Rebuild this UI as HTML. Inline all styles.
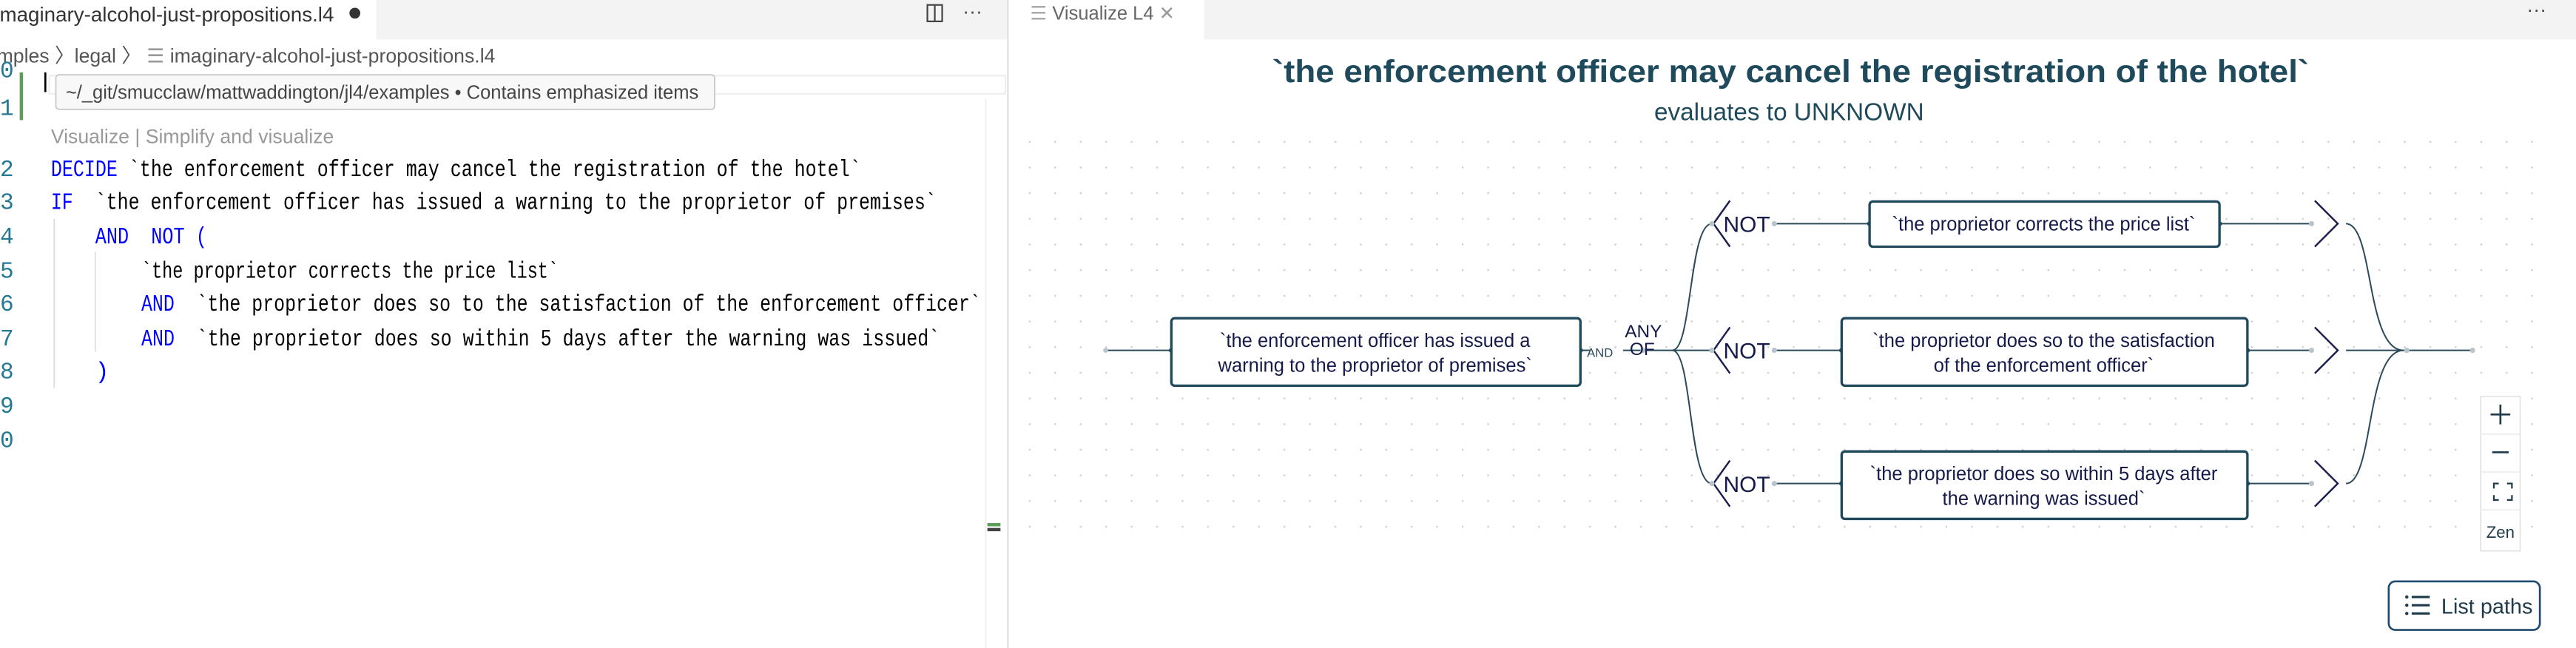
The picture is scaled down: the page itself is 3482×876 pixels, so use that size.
<!DOCTYPE html>
<html><head><meta charset="utf-8"><style>
html,body{margin:0;padding:0;background:#fff;overflow:hidden}
svg{display:block}
.m{font-family:"Liberation Mono",monospace;font-size:14px;white-space:pre}
.s{font-family:"Liberation Sans",sans-serif}
</style></head><body>
<svg width="3482" height="876" viewBox="0 0 1568 394" preserveAspectRatio="none" xmlns="http://www.w3.org/2000/svg" xml:space="preserve">
<defs>
<pattern id="dots" x="626" y="85.5" width="15.5" height="15.6" patternUnits="userSpaceOnUse">
<circle cx="0.8" cy="0.8" r="0.55" fill="#c4c8cc"/>
</pattern>
</defs>
<rect width="1568" height="394" fill="#fff"/>
<rect x="0" y="0" width="613" height="24" fill="#f3f3f3"/>
<rect x="0" y="0" width="229" height="25" fill="#fff"/>
<text x="-3" y="13" class="s" font-size="12.5" fill="#333">imaginary-alcohol-just-propositions.l4</text>
<circle cx="216" cy="8" r="3.3" fill="#333"/>
<rect x="564.5" y="3" width="9" height="10" fill="none" stroke="#444" stroke-width="1"/>
<line x1="569" y1="3" x2="569" y2="13" stroke="#444" stroke-width="1"/>
<text x="586" y="11" class="s" font-size="12" fill="#444">···</text>
<text x="-2" y="38" class="s" font-size="12" fill="#555">mples 〉legal 〉 <tspan fill="#999">☰</tspan> imaginary-alcohol-just-propositions.l4</text>
<rect x="30" y="46" width="582" height="11" fill="none" stroke="#eee" stroke-width="1"/>
<rect x="12" y="44" width="2" height="29" fill="#5a9e5a"/>
<rect x="27" y="44" width="1.2" height="12" fill="#000"/>
<text x="0" y="47" class="m" fill="#237893" font-size="12">0</text>
<text x="0" y="70" class="m" fill="#237893" font-size="12">1</text>
<rect x="34" y="45.5" width="401" height="21" fill="#f8f8f8" stroke="#c8c8c8" stroke-width="0.8" rx="2"/>
<text x="40" y="60" class="s" font-size="11.5" fill="#444">~/_git/smucclaw/mattwaddington/jl4/examples • Contains emphasized items</text>
<text x="31" y="87" class="s" font-size="12" fill="#999">Visualize | Simplify and visualize</text>
<g class="m" fill="#237893">
<text x="0" y="107">2</text><text x="0" y="127">3</text><text x="0" y="148">4</text><text x="0" y="169">5</text><text x="0" y="189">6</text><text x="0" y="210">7</text><text x="0" y="230">8</text><text x="0" y="251">9</text><text x="0" y="272">0</text>
</g>
<line x1="33" y1="133" x2="33" y2="236" stroke="#ddd" stroke-width="0.8"/>
<line x1="58" y1="153" x2="58" y2="214" stroke="#ddd" stroke-width="0.8"/>
<text x="31" y="107" class="m" textLength="493" lengthAdjust="spacingAndGlyphs"><tspan fill="#0000ff">DECIDE</tspan> `the enforcement officer may cancel the registration of the hotel`</text>
<text x="31" y="127" class="m" textLength="539" lengthAdjust="spacingAndGlyphs"><tspan fill="#0000ff">IF</tspan>&#160;&#160;`the enforcement officer has issued a warning to the proprietor of premises`</text>
<text x="58" y="148" class="m" fill="#0000ff" textLength="68" lengthAdjust="spacingAndGlyphs">AND&#160;&#160;NOT (</text>
<text x="86" y="169" class="m" textLength="254" lengthAdjust="spacingAndGlyphs">`the proprietor corrects the price list`</text>
<text x="86" y="189" class="m" textLength="511" lengthAdjust="spacingAndGlyphs"><tspan fill="#0000ff">AND</tspan>&#160;&#160;`the proprietor does so to the satisfaction of the enforcement officer`</text>
<text x="86" y="210" class="m" textLength="486" lengthAdjust="spacingAndGlyphs"><tspan fill="#0000ff">AND</tspan>&#160;&#160;`the proprietor does so within 5 days after the warning was issued`</text>
<text x="58" y="230" class="m" fill="#0000ff">)</text>
<line x1="600" y1="60" x2="600" y2="394" stroke="#eee" stroke-width="0.8"/>
<rect x="601" y="318" width="8" height="2" fill="#5a9e5a"/>
<rect x="601" y="321" width="8" height="2" fill="#444"/>
<line x1="613.5" y1="0" x2="613.5" y2="394" stroke="#e0e0e0" stroke-width="1"/>
<rect x="614" y="0" width="954" height="24" fill="#f3f3f3"/>
<rect x="614" y="0" width="119" height="25" fill="#fff"/>
<text x="627" y="12" class="s" font-size="11.5" fill="#666"><tspan fill="#aaa">☰</tspan>  Visualize L4  <tspan fill="#999">✕</tspan></text>
<text x="1538" y="10" class="s" font-size="12" fill="#444">···</text>
<text x="1090" y="50" text-anchor="middle" class="s" font-weight="bold" font-size="19" fill="#1e4a5c" textLength="631" lengthAdjust="spacingAndGlyphs">`the enforcement officer may cancel the registration of the hotel`</text>
<text x="1089" y="73" text-anchor="middle" class="s" font-size="15" fill="#1e4a5c">evaluates to UNKNOWN</text>
<rect x="624" y="84" width="930" height="250" fill="url(#dots)"/>
<g stroke="#2b4a5a" stroke-width="0.9" fill="none">
<line x1="673" y1="213" x2="713" y2="213"/>
<line x1="962" y1="213" x2="968" y2="213"/>
<line x1="988" y1="213" x2="1042" y2="213"/>
<path d="M1018,213 C1030,213 1028,136 1042,136"/>
<path d="M1018,213 C1030,213 1028,294 1042,294"/>
<line x1="1080" y1="136" x2="1138" y2="136"/>
<line x1="1080" y1="213" x2="1121" y2="213"/>
<line x1="1080" y1="294" x2="1121" y2="294"/>
<line x1="1351" y1="136" x2="1408" y2="136"/>
<line x1="1368" y1="213" x2="1408" y2="213"/>
<line x1="1368" y1="294" x2="1408" y2="294"/>
<path d="M1428,136 C1445,136 1440,213 1463,213"/>
<path d="M1428,294 C1445,294 1440,213 1463,213"/>
<line x1="1428" y1="213" x2="1505" y2="213"/>
</g>
<g stroke="#1a1f4f" stroke-width="1.1" fill="none">
<path d="M1053,122 L1043,136 L1053,150"/>
<path d="M1053,199 L1043,213 L1053,227"/>
<path d="M1053,280 L1043,294 L1053,308"/>
<path d="M1409,122 L1423,136 L1409,150"/>
<path d="M1409,199 L1423,213 L1409,227"/>
<path d="M1409,280 L1423,294 L1409,308"/>
</g>
<g fill="#b8c4cc">
<circle cx="673" cy="213" r="1.5"/><circle cx="1042" cy="136" r="1.6"/><circle cx="1042" cy="213" r="1.6"/><circle cx="1042" cy="294" r="1.6"/>
<circle cx="1080" cy="136" r="1.6"/><circle cx="1080" cy="213" r="1.6"/><circle cx="1080" cy="294" r="1.6"/>
<circle cx="1407" cy="136" r="1.6"/><circle cx="1407" cy="213" r="1.6"/><circle cx="1407" cy="294" r="1.6"/>
<circle cx="1465" cy="213" r="1.6"/><circle cx="1505" cy="213" r="1.6"/><circle cx="1000" cy="213" r="1.6"/>
</g>
<g fill="#1f4a5c">
<circle cx="713" cy="213" r="1.5"/><circle cx="962" cy="213" r="1.5"/>
<circle cx="1138" cy="136" r="1.5"/><circle cx="1351" cy="136" r="1.5"/>
<circle cx="1121" cy="213" r="1.5"/><circle cx="1368" cy="213" r="1.5"/>
<circle cx="1121" cy="294" r="1.5"/><circle cx="1368" cy="294" r="1.5"/>
</g>
<g fill="#fff" stroke="#1f4a5c" stroke-width="1.5">
<rect x="713" y="193.5" width="249" height="41" rx="2"/>
<rect x="1138" y="122.5" width="213" height="27.5" rx="2"/>
<rect x="1121" y="193.5" width="247" height="41" rx="2"/>
<rect x="1121" y="274.5" width="247" height="41" rx="2"/>
</g>
<g class="s" font-size="11.5" fill="#151a4a" text-anchor="middle">
<text x="837" y="211">`the enforcement officer has issued a</text>
<text x="837" y="226">warning to the proprietor of premises`</text>
<text x="1244" y="140">`the proprietor corrects the price list`</text>
<text x="1244" y="211">`the proprietor does so to the satisfaction</text>
<text x="1244" y="226">of the enforcement officer`</text>
<text x="1244" y="292">`the proprietor does so within 5 days after</text>
<text x="1244" y="307">the warning was issued`</text>
</g>
<g class="s" fill="#151a4a">
<text x="1049" y="141" font-size="13.5">NOT</text>
<text x="1049" y="218" font-size="13.5">NOT</text>
<text x="1049" y="299" font-size="13.5">NOT</text>
<text x="989" y="205" font-size="11">ANY</text>
<text x="992" y="216" font-size="11">OF</text>
<text x="966" y="217" font-size="7.5" fill="#2b4a5a">AND</text>
</g>
<g stroke="#e4e4e4" stroke-width="0.8" fill="#fff">
<rect x="1510" y="241" width="24" height="94"/>
</g>
<g stroke="#eee" stroke-width="0.8"><line x1="1510" y1="264" x2="1534" y2="264"/><line x1="1510" y1="287" x2="1534" y2="287"/><line x1="1510" y1="310" x2="1534" y2="310"/></g>
<g stroke="#1f3a4a" stroke-width="1.2" fill="none">
<line x1="1522" y1="246" x2="1522" y2="258"/><line x1="1516" y1="252" x2="1528" y2="252"/>
<line x1="1517" y1="275" x2="1527" y2="275"/>
<path d="M1518,297 v-3 h3 M1526,294 h3 v3 M1529,301 v3 h-3 M1521,304 h-3 v-3" stroke-width="1"/>
</g>
<text x="1522" y="327" text-anchor="middle" class="s" font-size="10" fill="#1f3a4a">Zen</text>
<rect x="1454" y="353.5" width="92" height="29.5" rx="4" fill="#fff" stroke="#1f4a6c" stroke-width="1.2"/>
<g fill="#1f3a4a">
<circle cx="1465" cy="363" r="1"/><circle cx="1465" cy="368" r="1"/><circle cx="1465" cy="373" r="1"/>
<rect x="1468" y="362.3" width="11" height="1.4"/><rect x="1468" y="367.3" width="11" height="1.4"/><rect x="1468" y="372.3" width="11" height="1.4"/>
</g>
<text x="1486" y="373" class="s" font-size="13" fill="#1f3a4a">List paths</text>
</svg>
</body></html>
